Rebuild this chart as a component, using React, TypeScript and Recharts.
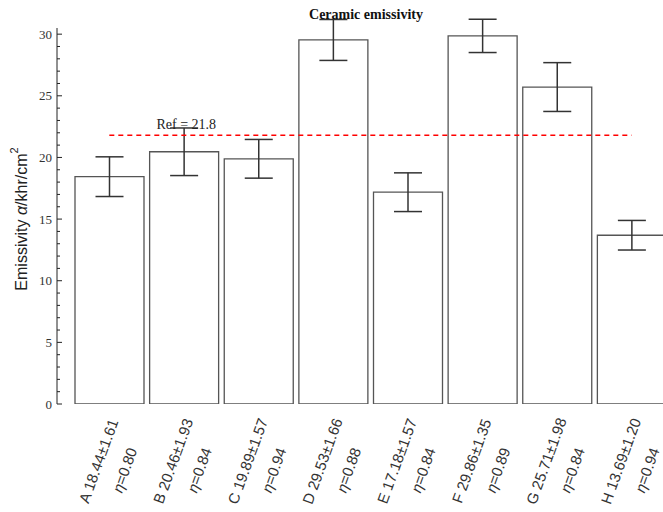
import React from 'react';
import { BarChart, Bar, XAxis, YAxis, ErrorBar, ReferenceLine } from 'recharts';

const categories = ['A', 'B', 'C', 'D', 'E', 'F', 'G', 'H'];
const emissivity = [18.44, 20.46, 19.89, 29.53, 17.18, 29.86, 25.71, 13.69];
const errors = [1.61, 1.93, 1.57, 1.66, 1.57, 1.35, 1.98, 1.2];
const etas = ['0.80', '0.84', '0.94', '0.88', '0.84', '0.89', '0.84', '0.94'];
const yTicks = Array.from({ length: 31 }, (_, i) => i);
const refValue = 21.8;

const data = categories.map((name, i) => ({
  name,
  value: emissivity[i],
  err: errors[i],
  eta: etas[i],
}));

const XTick = (props: any) => {
  const { x, y, payload } = props;
  const d = data.find((r) => r.name === payload.value);
  if (!d) return null;
  return (
    <g fill="#333" fontFamily="'Liberation Sans', Arial, sans-serif" fontSize={15}>
      <text
        transform={`translate(${x - 11},${y + 57}) rotate(-70)`}
        textAnchor="middle"
        dominantBaseline="central"
      >
        {`${d.name} ${d.value.toFixed(2)}±${d.err.toFixed(2)}`}
      </text>
      <text
        transform={`translate(${x + 15},${y + 66}) rotate(-70)`}
        textAnchor="middle"
        dominantBaseline="central"
      >
        <tspan fontStyle="italic">η</tspan>={d.eta}
      </text>
    </g>
  );
};

const YTick = (props: any) => {
  const { x, y, payload } = props;
  const major = payload.value % 5 === 0;
  return (
    <g>
      <line x1={x} x2={x + (major ? 5 : 3)} y1={y} y2={y} stroke="#222" strokeWidth={1} />
      {major && (
        <text
          x={x - 5}
          y={y}
          textAnchor="end"
          dominantBaseline="central"
          fontFamily="'Liberation Serif', serif"
          fontSize={13}
          fill="#333"
        >
          {payload.value}
        </text>
      )}
    </g>
  );
};

const YLabel = () => (
  <text
    transform="translate(21,219) rotate(-90)"
    textAnchor="middle"
    dominantBaseline="central"
    fontFamily="'Liberation Sans', Arial, sans-serif"
    fontSize={16}
    fill="#222"
  >
    Emissivity <tspan fontStyle="italic">α</tspan>/khr/cm
    <tspan dy={-7} fontSize={11}>2</tspan>
  </text>
);

const RefLabel = (props: any) => {
  const vb = props.viewBox || {};
  return (
    <text
      x={(vb.x ?? 0) + 77}
      y={(vb.y ?? 0) - 11}
      textAnchor="middle"
      dominantBaseline="central"
      fontFamily="'Liberation Serif', serif"
      fontSize={14}
      fill="#222"
    >
      Ref = {refValue}
    </text>
  );
};

export default function App() {
  return (
    <div
      style={{
        position: 'absolute',
        left: 0,
        top: 0,
        width: 663,
        height: 512,
        overflow: 'hidden',
        background: '#fff',
      }}
    >
      <div
        style={{
          position: 'absolute',
          left: 266,
          top: 6,
          width: 200,
          textAlign: 'center',
          fontFamily: "'Liberation Serif', serif",
          fontWeight: 'bold',
          fontSize: 14,
          lineHeight: '18px',
          color: '#111',
          zIndex: 2,
        }}
      >
        Ceramic emissivity
      </div>
      <BarChart
        width={670}
        height={512}
        data={data}
        margin={{ top: 28, right: 1, bottom: 0, left: 0 }}
        barCategoryGap={3}
      >
        <XAxis
          dataKey="name"
          height={108}
          tickLine={false}
          axisLine={false}
          tickSize={0}
          tickMargin={0}
          interval={0}
          padding={{ left: 15, right: 0 }}
          tick={<XTick />}
        />
        <YAxis
          width={57}
          domain={[0, 30.5]}
          allowDataOverflow
          ticks={yTicks}
          interval={0}
          tickSize={0}
          tickMargin={0}
          tickLine={false}
          axisLine={{ stroke: '#222' }}
          tick={YTick}
          label={YLabel}
        />
        <Bar dataKey="value" fill="#fff" stroke="#555" strokeWidth={1.3} isAnimationActive={false}>
          <ErrorBar dataKey="err" width={14} stroke="#333" strokeWidth={1.5} direction="y" />
        </Bar>
        <ReferenceLine
          segment={[
            { x: 'A', y: refValue },
            { x: 'H', y: refValue },
          ]}
          stroke="#ff0000"
          strokeDasharray="5 4"
          strokeWidth={1.4}
          label={RefLabel}
        />
      </BarChart>
    </div>
  );
}
